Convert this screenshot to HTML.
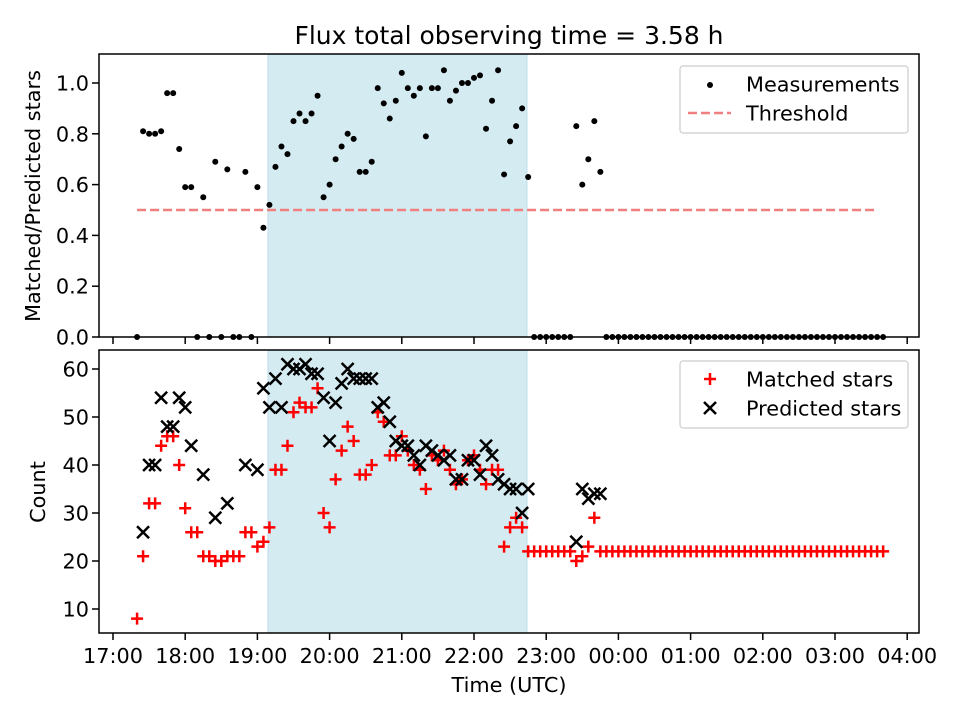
<!DOCTYPE html>
<html><head><meta charset="utf-8"><style>
body{margin:0;background:#fff}
svg text{font-family:"DejaVu Sans","Liberation Sans",sans-serif;fill:#000}
</style></head><body>
<svg id="fig" width="960" height="720" xmlns="http://www.w3.org/2000/svg">
<rect width="960" height="720" fill="#fff"/>
<text x="509" y="44" font-size="25" text-anchor="middle">Flux total observing time = 3.58 h</text>
<g id="top"></g>
<g id="bot"></g>
</svg>
<script>
// minutes since 17:00
const times=[20,25,30,35,40,45,50,55,60,65,70,75,80,85,90,95,100,105,110,115,120,125,130,135,140,145,150,155,160,165,170,175,180,185,190,195,200,205,210,215,220,225,230,235,240,245,250,255,260,265,270,275,280,285,290,295,300,305,310,315,320,325,330,335,340,345,350,355,360,365,370,375,380,385,390,395,400,405,410,415,420,425,430,435,440,445,450,455,460,465,470,475,480,485,490,495,500,505,510,515,520,525,530,535,540,545,550,555,560,565,570,575,580,585,590,595,600,605,610,615,620,625,630,635,640];
const ratio=[0,0.81,0.80,0.80,0.81,0.96,0.96,0.74,0.59,0.59,0,0.55,0,0.69,0,0.66,0,0,0.65,0,0.59,0.43,0.52,0.67,0.75,0.72,0.85,0.88,0.85,0.88,0.95,0.55,0.60,0.70,0.75,0.80,0.78,0.65,0.65,0.69,0.98,0.92,0.86,0.93,1.04,0.98,0.95,0.98,0.79,0.98,0.98,1.05,0.93,0.97,1.00,1.00,1.02,1.03,0.82,0.93,1.05,0.64,0.77,0.83,0.90,0.63,0,0,0,0,0,0,0,0.83,0.60,0.70,0.85,0.65,0,0,0,0,0,0,0,0,0,0,0,0,0,0,0,0,0,0,0,0,0,0,0,0,0,0,0,0,0,0,0,0,0,0,0,0,0,0,0,0,0,0,0,0,0,0,0];
const matched=[8,21,32,32,44,46,46,40,31,26,26,21,21,20,20,21,21,21,26,26,23,24,27,39,39,44,51,53,52,52,56,30,27,37,43,48,45,38,38,40,51,49,42,42,46,43,40,39,35,42,41,43,39,36,37,41,42,39,36,39,39,23,27,29,27,22,22,22,22,22,22,22,22,20,21,23,29,22,22,22,22,22,22,22,22,22,22,22,22,22,22,22,22,22,22,22,22,22,22,22,22,22,22,22,22,22,22,22,22,22,22,22,22,22,22,22,22,22,22,22,22,22,22,22,22];
const predicted=[null,26,40,40,54,48,48,54,52,44,null,38,null,29,null,32,null,null,40,null,39,56,52,58,52,61,60,60,61,59,59,54,45,53,57,60,58,58,58,58,52,53,49,45,44,44,42,40,44,43,42,41,42,37,37,41,41,38,44,42,37,36,35,35,30,35,null,null,null,null,null,null,null,24,35,33,34,34];
const threshold=[0.5];
const shadeSpan=[128.8,344];
const xTickLabels=["17:00","18:00","19:00","20:00","21:00","22:00","23:00","00:00","01:00","02:00","03:00","04:00"];
const topTicks=[0.0,0.2,0.4,0.6,0.8,1.0];
const botTicks=[10,20,30,40,50,60];

const NS="http://www.w3.org/2000/svg";
const X0=99,X1=919,FS=20.8;
const xs=m=>113+m*72.2/60;
const yTop=v=>337-v*254;
const yBot=v=>609-(v-10)*4.8;
function mk(p,tag,at,txt){const e=document.createElementNS(NS,tag);for(const k in at)e.setAttribute(k,at[k]);if(txt!=null)e.textContent=txt;p.appendChild(e);return e;}
const plus=(x,y)=>`M${x-6},${y}H${x+6}M${x},${y-6}V${y+6}`;
const cross=(x,y)=>`M${x-6},${y-6}L${x+6},${y+6}M${x-6},${y+6}L${x+6},${y-6}`;

function panel(g,yT,yB,name){
  const s=mk(g,'rect',{x:xs(shadeSpan[0]),y:yT,width:xs(shadeSpan[1])-xs(shadeSpan[0]),height:yB-yT,fill:'rgb(213,235,242)',stroke:'rgb(190,222,234)','stroke-width':1});
  
  
  xTickLabels.forEach((l,i)=>{const x=xs(i*60);
    const t=mk(g,'line',{x1:x,x2:x,y1:yB,y2:yB+7,stroke:'#000','stroke-width':1.5});
    
    
  });
}
const gTop=document.getElementById('top'),gBot=document.getElementById('bot');
panel(gTop,54,337,'top');panel(gBot,350,633,'bottom');

// top
const th=mk(gTop,'line',{x1:xs(times[0]),x2:xs(times[times.length-1])-5,y1:yTop(threshold[0]),y2:yTop(threshold[0]),stroke:'#f08080','stroke-width':2.5,'stroke-dasharray':'9,4'});


times.forEach((t,i)=>{
  const c=mk(gTop,'circle',{cx:xs(t),cy:yTop(ratio[i]),r:3,fill:'#000'});
  
  
});
topTicks.forEach(v=>{const y=yTop(v);
  mk(gTop,'line',{x1:92,x2:99,y1:y,y2:y,stroke:'#000','stroke-width':1.5});
  const l=mk(gTop,'text',{x:89,y:y+7.5,'font-size':FS,'text-anchor':'end'},v.toFixed(1));
  
  
});
mk(gTop,'rect',{x:X0,y:54,width:X1-X0,height:283,fill:'none',stroke:'#000','stroke-width':1.5});
const yl1=mk(gTop,'text',{x:0,y:0,'font-size':FS,'text-anchor':'middle',transform:'translate(40,196) rotate(-90)'},'Matched/Predicted stars');



// bottom
times.forEach((t,i)=>{
  const p=mk(gBot,'path',{d:plus(xs(t),yBot(matched[i])),stroke:'#f00','stroke-width':2.5});
  
  
});
times.forEach((t,i)=>{
  if(predicted[i]==null)return;
  const p=mk(gBot,'path',{d:cross(xs(t),yBot(predicted[i])),stroke:'#000','stroke-width':2.5});
  
  
});
botTicks.forEach(v=>{const y=yBot(v);
  mk(gBot,'line',{x1:92,x2:99,y1:y,y2:y,stroke:'#000','stroke-width':1.5});
  const l=mk(gBot,'text',{x:89,y:y+7.5,'font-size':FS,'text-anchor':'end'},String(v));
  
  
});
xTickLabels.forEach((lb,i)=>{
  const l=mk(gBot,'text',{x:xs(i*60),y:663,'font-size':FS,'text-anchor':'middle'},lb);
  
  
});
mk(gBot,'rect',{x:X0,y:350,width:X1-X0,height:283,fill:'none',stroke:'#000','stroke-width':1.5});
const yl2=mk(gBot,'text',{x:0,y:0,'font-size':FS,'text-anchor':'middle',transform:'translate(45,492) rotate(-90)'},'Count');


const xl=mk(gBot,'text',{x:509,y:692,'font-size':FS,'text-anchor':'middle'},'Time (UTC)');



// legends
function legend(g,y0,entries,name){
  const lg=mk(g,'g',{});
  
  
  mk(lg,'rect',{x:680,y:y0,width:228,height:67,rx:3,fill:'#fff','fill-opacity':0.8,stroke:'#ccc','stroke-width':1.2});
  entries.forEach((e,i)=>{
    const y=y0+18+i*29;
    e.draw(lg,710,y);
    const t=mk(lg,'text',{x:746,y:y+7.5,'font-size':FS},e.label);
    
    
  });
}
legend(gTop,66,[
  {label:'Measurements',draw:(g,x,y)=>mk(g,'circle',{cx:x,cy:y+1,r:3,fill:'#000'})},
  {label:'Threshold',draw:(g,x,y)=>mk(g,'line',{x1:x-22,x2:x+21,y1:y,y2:y,stroke:'#f08080','stroke-width':2.5,'stroke-dasharray':'9,4'})}
],'top-legend');
legend(gBot,361,[
  {label:'Matched stars',draw:(g,x,y)=>mk(g,'path',{d:plus(x,y),stroke:'#f00','stroke-width':2.5})},
  {label:'Predicted stars',draw:(g,x,y)=>mk(g,'path',{d:cross(x,y),stroke:'#000','stroke-width':2.5})}
],'bottom-legend');
</script>
</body></html>
